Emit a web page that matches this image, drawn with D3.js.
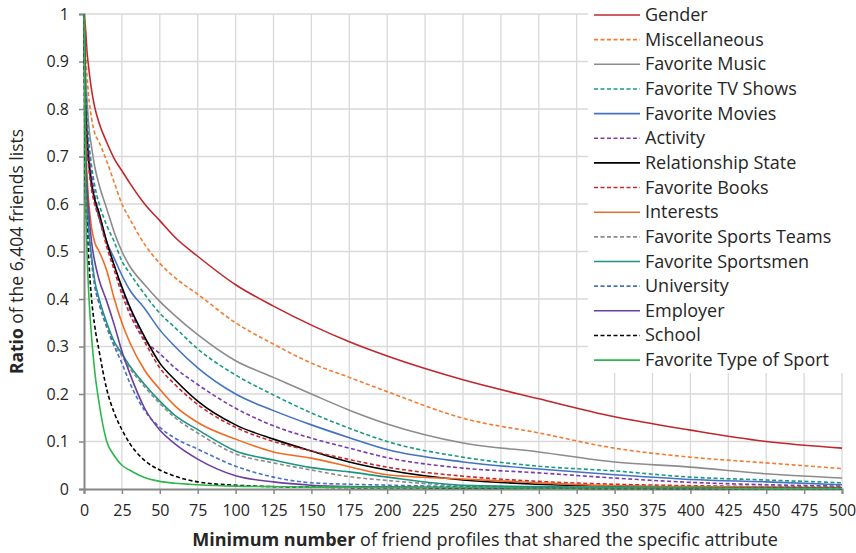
<!DOCTYPE html>
<html>
<head>
<meta charset="utf-8">
<script src="https://cdn.jsdelivr.net/npm/d3@7"></script>
<style>
  body { margin: 0; background: #fff; }
  text { font-family: "Open Sans", sans-serif; fill: #262626; }
</style>
</head>
<body>
<script>
// minimum number of shared profiles (x)
const minShared = [0, 1, 2, 3, 5, 7, 10, 15, 20, 25, 30, 40, 50, 60, 75, 100, 125, 150, 175, 200, 250, 300, 350, 400, 450, 500]

const gender        = [1, 0.97, 0.92, 0.89, 0.84, 0.805, 0.77, 0.73, 0.695, 0.67, 0.645, 0.60, 0.565, 0.53, 0.49, 0.43, 0.385, 0.345, 0.31, 0.28, 0.23, 0.19, 0.152, 0.124, 0.10, 0.086]
const miscellaneous = [1, 0.93, 0.87, 0.83, 0.78, 0.75, 0.73, 0.69, 0.645, 0.60, 0.57, 0.515, 0.475, 0.445, 0.41, 0.35, 0.305, 0.265, 0.235, 0.205, 0.149, 0.118, 0.086, 0.067, 0.055, 0.043]
const favMusic      = [1, 0.88, 0.82, 0.77, 0.72, 0.68, 0.64, 0.59, 0.54, 0.50, 0.47, 0.43, 0.395, 0.365, 0.325, 0.27, 0.235, 0.20, 0.166, 0.137, 0.097, 0.078, 0.057, 0.046, 0.032, 0.023]
const favTvShows    = [1, 0.85, 0.79, 0.74, 0.68, 0.64, 0.60, 0.555, 0.52, 0.48, 0.455, 0.41, 0.37, 0.34, 0.295, 0.24, 0.198, 0.16, 0.128, 0.10, 0.067, 0.048, 0.038, 0.025, 0.019, 0.013]
const favMovies     = [1, 0.83, 0.76, 0.71, 0.65, 0.61, 0.57, 0.52, 0.485, 0.45, 0.42, 0.38, 0.335, 0.30, 0.255, 0.20, 0.165, 0.135, 0.108, 0.083, 0.057, 0.042, 0.03, 0.02, 0.015, 0.009]
const activity      = [1, 0.82, 0.75, 0.71, 0.66, 0.62, 0.58, 0.52, 0.47, 0.42, 0.38, 0.315, 0.285, 0.255, 0.22, 0.17, 0.133, 0.107, 0.086, 0.066, 0.044, 0.034, 0.023, 0.014, 0.009, 0.006]
const relationship  = [1, 0.80, 0.73, 0.69, 0.64, 0.61, 0.58, 0.52, 0.47, 0.425, 0.385, 0.32, 0.265, 0.23, 0.185, 0.135, 0.105, 0.08, 0.057, 0.04, 0.019, 0.01, 0.006, 0.004, 0.003, 0.002]
const favBooks      = [1, 0.79, 0.72, 0.68, 0.63, 0.60, 0.57, 0.51, 0.46, 0.41, 0.37, 0.31, 0.255, 0.22, 0.178, 0.13, 0.10, 0.08, 0.062, 0.046, 0.027, 0.016, 0.01, 0.007, 0.005, 0.004]
const interests     = [1, 0.74, 0.66, 0.61, 0.55, 0.52, 0.50, 0.46, 0.40, 0.35, 0.31, 0.25, 0.21, 0.175, 0.14, 0.105, 0.078, 0.065, 0.047, 0.03, 0.021, 0.013, 0.007, 0.005, 0.004, 0.003]
const sportsTeams   = [1, 0.69, 0.60, 0.54, 0.48, 0.43, 0.39, 0.345, 0.305, 0.28, 0.255, 0.215, 0.18, 0.15, 0.118, 0.074, 0.055, 0.04, 0.026, 0.018, 0.007, 0.004, 0.003, 0.002, 0.002, 0.001]
const sportsmen     = [1, 0.70, 0.61, 0.55, 0.49, 0.44, 0.40, 0.35, 0.31, 0.285, 0.26, 0.22, 0.185, 0.155, 0.125, 0.08, 0.061, 0.045, 0.036, 0.025, 0.008, 0.005, 0.004, 0.003, 0.002, 0.002]
const university    = [1, 0.70, 0.61, 0.55, 0.48, 0.43, 0.39, 0.34, 0.30, 0.265, 0.225, 0.165, 0.13, 0.107, 0.084, 0.048, 0.025, 0.013, 0.01, 0.008, 0.005, 0.004, 0.003, 0.002, 0.002, 0.001]
const employer      = [1, 0.72, 0.64, 0.59, 0.52, 0.48, 0.44, 0.395, 0.345, 0.29, 0.245, 0.17, 0.124, 0.095, 0.063, 0.028, 0.015, 0.008, 0.005, 0.004, 0.003, 0.002, 0.002, 0.001, 0.001, 0.001]
const school        = [1, 0.62, 0.55, 0.49, 0.40, 0.345, 0.29, 0.21, 0.16, 0.125, 0.097, 0.06, 0.04, 0.027, 0.015, 0.008, 0.005, 0.004, 0.003, 0.003, 0.002, 0.002, 0.001, 0.001, 0.001, 0.001]
const typeOfSport   = [1, 0.65, 0.50, 0.42, 0.32, 0.25, 0.18, 0.10, 0.07, 0.05, 0.04, 0.024, 0.016, 0.012, 0.009, 0.006, 0.005, 0.004, 0.004, 0.003, 0.003, 0.002, 0.002, 0.002, 0.001, 0.001]

const seriesNames = ["Gender", "Miscellaneous", "Favorite Music", "Favorite TV Shows", "Favorite Movies", "Activity",
    "Relationship State", "Favorite Books", "Interests", "Favorite Sports Teams", "Favorite Sportsmen", "University",
    "Employer", "School", "Favorite Type of Sport"]
const seriesValues = [gender, miscellaneous, favMusic, favTvShows, favMovies, activity, relationship, favBooks,
    interests, sportsTeams, sportsmen, university, employer, school, typeOfSport]
const seriesColors = ["#c0272d", "#f47c30", "#8c8c8c", "#1a9a82", "#4472c4", "#7a3bb0", "#000000", "#c8282e",
    "#f26a22", "#8c8c8c", "#1f9480", "#4472c4", "#6b3fa0", "#000000", "#2cb64c"]
const seriesDashed = [false, true, false, true, false, true, false, true, false, true, false, true, false, true, false]

const xTicks = d3.range(0, 501, 25)
const yTicks = d3.range(0, 1.01, 0.1)

const width = 856
const height = 553
const margin = { top: 14, right: 14, bottom: 64, left: 84 }

const svg = d3.select('body').append('svg')
    .attr('width', width)
    .attr('height', height)

const x = d3.scaleLinear().domain([0, 500]).range([margin.left, width - margin.right])
const y = d3.scaleLinear().domain([0, 1]).range([height - margin.bottom, margin.top])

// grid
const grid = svg.append('g')
grid.selectAll('line.v').data(xTicks.slice(1)).enter().append('line')
    .attr('x1', d => x(d)).attr('x2', d => x(d))
    .attr('y1', y(0)).attr('y2', y(1))
    .attr('stroke', '#d9d9d9').attr('stroke-width', 1.3)
grid.selectAll('line.h').data(yTicks.slice(1)).enter().append('line')
    .attr('x1', x(0)).attr('x2', x(500))
    .attr('y1', d => y(d)).attr('y2', d => y(d))
    .attr('stroke', '#d9d9d9').attr('stroke-width', 1.3)

// axes
const xAxis = svg.append('g')
    .attr('transform', `translate(0,${y(0)})`)
    .call(d3.axisBottom(x).tickValues(xTicks).tickSize(5).tickPadding(11))
const yAxis = svg.append('g')
    .attr('transform', `translate(${x(0)},0)`)
    .call(d3.axisLeft(y).tickValues(yTicks).tickSize(5).tickPadding(10)
        .tickFormat(d => d3.format('.1~f')(d)))
;[xAxis, yAxis].forEach(a => {
    a.select('.domain').attr('stroke', '#868686').attr('stroke-width', 2)
    a.selectAll('.tick line').attr('stroke', '#868686').attr('stroke-width', 1.5)
    a.selectAll('.tick text').attr('font-size', 16)
        .attr('font-family', '"Open Sans", sans-serif')
})

// curves
const line = d3.line()
    .x((d, i) => x(minShared[i]))
    .y(d => y(d))
    .curve(d3.curveMonotoneX)

const plot = svg.append('g')
seriesValues.forEach((vals, k) => {
    plot.append('path')
        .attr('d', line(vals))
        .attr('fill', 'none')
        .attr('stroke', seriesColors[k])
        .attr('stroke-width', 1.6)
        .attr('stroke-dasharray', seriesDashed[k] ? '4,2.5' : null)
})

// legend
const legend = svg.append('g')
legend.append('rect')
    .attr('x', 588).attr('y', 0).attr('width', 262).attr('height', 373)
    .attr('fill', '#fff')
const rowH = 24.65
seriesNames.forEach((name, k) => {
    const ly = 15 + k * rowH
    legend.append('line')
        .attr('x1', 594).attr('x2', 640)
        .attr('y1', ly).attr('y2', ly)
        .attr('stroke', seriesColors[k])
        .attr('stroke-width', 1.6)
        .attr('stroke-dasharray', seriesDashed[k] ? '4,2.5' : null)
    legend.append('text')
        .attr('x', 645).attr('y', ly + 6)
        .attr('font-size', 18)
        .text(name)
})

// axis titles
const xTitle = svg.append('text')
    .attr('x', 485).attr('y', 546)
    .attr('text-anchor', 'middle')
    .attr('font-size', 18)
xTitle.append('tspan').attr('font-weight', 'bold').text('Minimum number')
xTitle.append('tspan').text(' of friend profiles that shared the specific attribute')

const yTitle = svg.append('text')
    .attr('transform', `translate(23,${(y(0) + y(1)) / 2}) rotate(-90)`)
    .attr('text-anchor', 'middle')
    .attr('font-size', 17.5)
yTitle.append('tspan').attr('font-weight', 'bold').text('Ratio')
yTitle.append('tspan').text(' of the 6,404 friends lists')
</script>
</body>
</html>
